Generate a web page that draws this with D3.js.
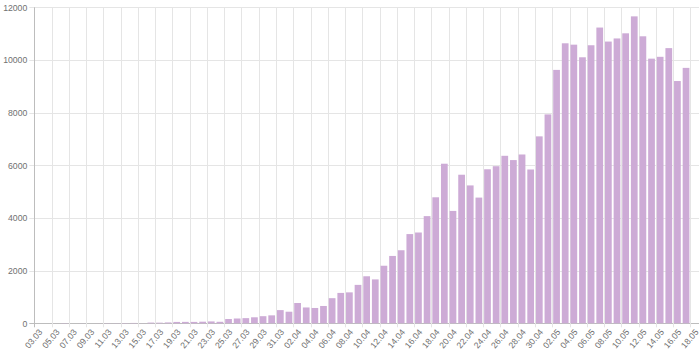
<!DOCTYPE html>
<html><head><meta charset="utf-8">
<script src="https://cdn.jsdelivr.net/npm/d3@7"></script>
<style>
body{margin:0;background:#fff}
svg{display:block}
text{font-family:"Liberation Sans",Arial,Helvetica,sans-serif;}
</style>
</head><body>
<svg id="chart" width="700" height="350"></svg>
<script>
const categories = [
 "03.03","04.03","05.03","06.03","07.03","08.03","09.03","10.03","11.03","12.03",
 "13.03","14.03","15.03","16.03","17.03","18.03","19.03","20.03","21.03","22.03",
 "23.03","24.03","25.03","26.03","27.03","28.03","29.03","30.03","31.03",
 "01.04","02.04","03.04","04.04","05.04","06.04","07.04","08.04","09.04","10.04",
 "11.04","12.04","13.04","14.04","15.04","16.04","17.04","18.04","19.04","20.04",
 "21.04","22.04","23.04","24.04","25.04","26.04","27.04","28.04","29.04","30.04",
 "01.05","02.05","03.05","04.05","05.05","06.05","07.05","08.05","09.05","10.05",
 "11.05","12.05","13.05","14.05","15.05","16.05","17.05","18.05"
];
const cases = [
 0,0,1,9,0,4,0,3,8,6,
 11,14,4,27,24,33,52,54,53,61,
 71,57,163,182,196,228,270,302,501,
 440,771,601,582,658,954,1154,1175,1459,1786,
 1667,2186,2558,2774,3388,3448,4070,4785,6060,4268,
 5642,5236,4774,5849,5966,6361,6198,6411,5841,7099,
 7933,9623,10633,10581,10102,10559,11231,10699,10817,11012,
 11656,10899,10050,10120,10450,9200,9700,null
];
const yTicks = [0,2000,4000,6000,8000,10000,12000];
const xTickLabels = categories.filter((d,i) => i % 2 === 0);

const svg = d3.select("#chart");
const pLeft = 34.3, pRight = 699, pTop = 7.3, pBottom = 323.3;

const x = d3.scaleBand().domain(categories).range([pLeft, pRight])
  .paddingInner(0.22).paddingOuter(0.11);
const y = d3.scaleLinear().domain([0, 12000]).range([pBottom, pTop]);
const step = x.step();
const boundary = c => x(c) - step * 0.11;

const grid = svg.append("g");
grid.selectAll("line.h").data(yTicks).join("line")
  .attr("x1", pLeft - 5).attr("x2", pRight)
  .attr("y1", d => Math.round(y(d)) + 0.5).attr("y2", d => Math.round(y(d)) + 0.5)
  .attr("stroke", d => d === 0 ? "#bdbdbd" : "#e5e5e5").attr("stroke-width", 1);
grid.selectAll("line.v").data(xTickLabels).join("line")
  .attr("x1", d => Math.round(boundary(d)) + 0.5).attr("x2", d => Math.round(boundary(d)) + 0.5)
  .attr("y1", pTop).attr("y2", pBottom + 4)
  .attr("stroke", (d,i) => i === 0 ? "#bdbdbd" : "#e5e5e5").attr("stroke-width", 1);

svg.append("g").selectAll("rect")
  .data(categories.map((c,i) => ({c, v: cases[i]})).filter(d => d.v !== null && d.v > 0))
  .join("rect")
  .attr("x", d => x(d.c)).attr("width", x.bandwidth())
  .attr("y", d => y(d.v)).attr("height", d => pBottom - y(d.v))
  .attr("fill", "#cdabd6");

const yAxis = d3.axisLeft(y).tickValues(yTicks).tickFormat(d3.format("d")).tickSize(0).tickPadding(7);
const ya = svg.append("g").attr("transform", `translate(${pLeft},0)`).call(yAxis);
ya.select(".domain").remove();
ya.selectAll("text").attr("fill", "#707070").attr("font-size", "8.7px")
  .attr("font-family", '"Liberation Sans",Arial,sans-serif');

const xAxis = d3.axisBottom(x).tickValues(xTickLabels).tickSize(0).tickPadding(0);
const xa = svg.append("g").attr("transform", `translate(0,${pBottom})`).call(xAxis);
xa.select(".domain").remove();
xa.selectAll(".tick text")
  .attr("fill", "#707070").attr("font-size", "8.7px")
  .attr("font-family", '"Liberation Sans",Arial,sans-serif')
  .attr("text-anchor", "end")
  .attr("dy", "0.35em").attr("y", 0)
  .attr("transform", "translate(2,7) rotate(-50)");
</script>
</body></html>
